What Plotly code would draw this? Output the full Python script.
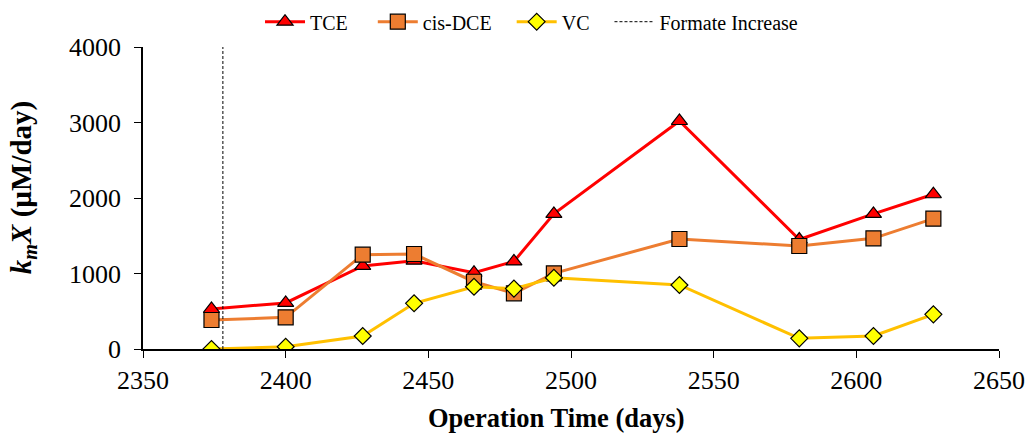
import plotly.graph_objects as go

# Operation time (days) and k_m X values (µM/day)
days = [2374, 2400, 2427, 2445, 2466, 2480, 2494, 2538, 2580, 2606, 2627]
tce = [530, 610, 1100, 1170, 1010, 1160, 1790, 3020, 1450, 1790, 2050]
cis_dce = [384, 420, 1249, 1258, 891, 738, 1002, 1457, 1364, 1466, 1726]
vc = [0, 30, 172, 605, 825, 800, 944, 848, 141, 172, 459]
formate_day = 2378

font_family = "Liberation Serif"


def padded(name, n):
    """Legend label followed by n non-breaking spaces for entry spacing."""
    return name + "\u00a0" * n


fig = go.Figure()
fig.add_trace(go.Scatter(
    x=days, y=tce, name=padded("TCE", 4), mode="lines+markers",
    line=dict(color="#FF0000", width=3),
    marker=dict(symbol="triangle-up", size=14, color="#FF0000",
                line=dict(color="#000000", width=1.2)),
))
fig.add_trace(go.Scatter(
    x=days, y=cis_dce, name=padded("cis-DCE", 3), mode="lines+markers",
    line=dict(color="#ED7D31", width=3),
    marker=dict(symbol="square", size=15, color="#ED7D31",
                line=dict(color="#000000", width=1.2)),
))
fig.add_trace(go.Scatter(
    x=days, y=vc, name=padded("VC", 3), mode="lines+markers",
    line=dict(color="#FFC000", width=3),
    marker=dict(symbol="diamond", size=13, color="#FFFF00",
                line=dict(color="#000000", width=1.2)),
))
fig.add_trace(go.Scatter(
    x=[formate_day, formate_day], y=[0, 4000], name="Formate Increase",
    mode="lines", line=dict(color="#000000", width=1, dash="3px,2px"),
))

fig.update_layout(
    width=1027, height=440,
    margin=dict(l=143, r=28, t=47, b=91, autoexpand=False),
    paper_bgcolor="white", plot_bgcolor="white",
    font=dict(family=font_family, color="#000000"),
    legend=dict(orientation="h", x=0.1367, xanchor="left", y=0.995, yanchor="top",
                yref="container", font=dict(size=20, family=font_family),
                itemwidth=40),
    showlegend=True,
    annotations=[
        dict(text="<b>Operation Time (days)</b>", xref="paper", yref="paper",
             x=0.4825, y=-0.2285, xanchor="center", yanchor="middle",
             showarrow=False, font=dict(size=26.5, family=font_family)),
        dict(text="<b><i>k<sub>m</sub>X</i> (µM/day)</b>", xref="paper", yref="paper",
             x=-0.140, y=0.533, xanchor="center", yanchor="middle", textangle=-90,
             showarrow=False, font=dict(size=29, family=font_family)),
    ],
)

fig.update_xaxes(
    range=[2350, 2650], tickmode="linear", tick0=2350, dtick=50,
    showgrid=False, zeroline=False, showline=True, linecolor="#000000", linewidth=1.5,
    ticks="outside", ticklen=7, tickcolor="#000000", tickwidth=1.2,
    tickfont=dict(size=26, family=font_family),
)
fig.update_yaxes(
    range=[0, 4000], tickmode="linear", tick0=0, dtick=1000,
    showgrid=False, zeroline=False, showline=True, linecolor="#000000", linewidth=1.5,
    ticks="outside", ticklen=7, tickcolor="#000000", tickwidth=1.2,
    ticklabelstandoff=8,
    tickfont=dict(size=26, family=font_family),
)

fig.write_html("out.html")
